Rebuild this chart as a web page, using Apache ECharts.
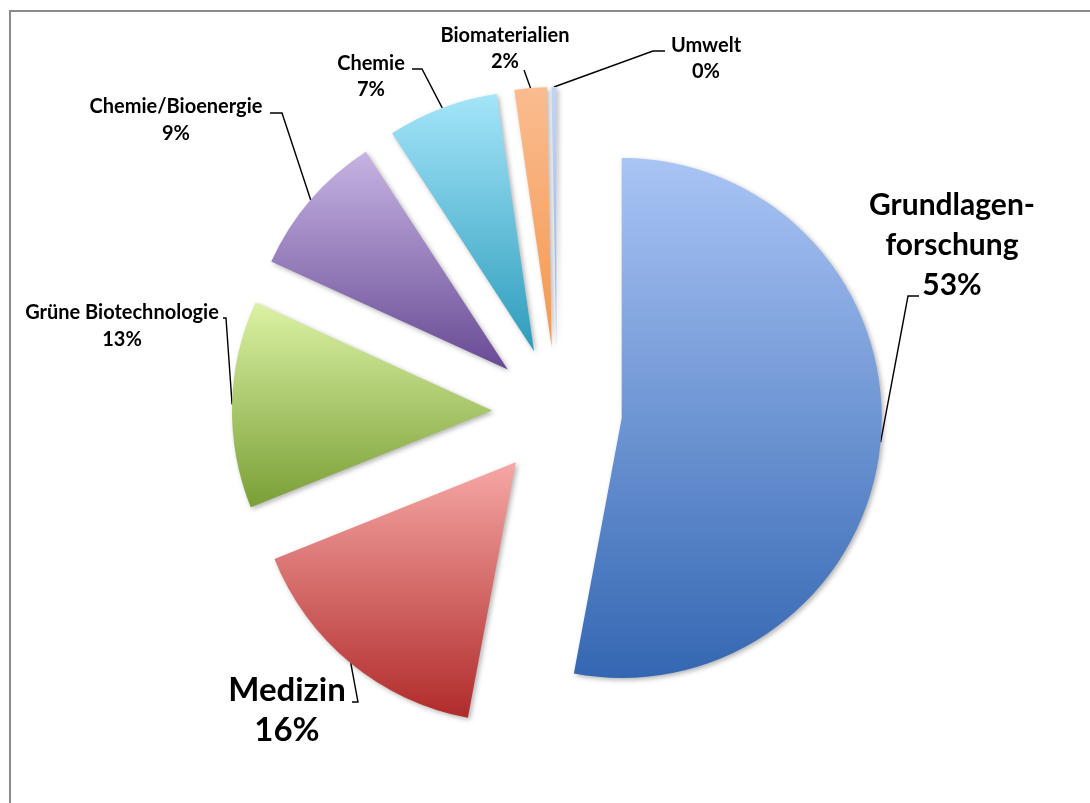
<!DOCTYPE html>
<html>
<head>
<meta charset="utf-8">
<script src="https://cdn.jsdelivr.net/npm/echarts@6/dist/echarts.min.js"></script>
<style>
  html, body { margin: 0; padding: 0; background: #ffffff; }
  #chart { width: 1090px; height: 803px; }
</style>
</head>
<body>
<div id="chart"></div>
<script>
// Research funding by field (share in percent)
const categories = ['Grundlagenforschung', 'Medizin', 'Grüne Biotechnologie', 'Chemie/Bioenergie', 'Chemie', 'Biomaterialien', 'Umwelt'];
const shares = [53.0, 16.0, 12.9, 9.0, 6.9, 2.0, 0.3];
// Text shown in the labels (Grundlagenforschung is hyphenated over two lines)
const labelNames = ['Grundlagen-\nforschung', 'Medizin', 'Grüne Biotechnologie', 'Chemie/Bioenergie', 'Chemie', 'Biomaterialien', 'Umwelt'];

// Top / bottom colours of each slice's vertical gradient
const gradientColors = [
  ['#a9c4f5', '#3467b2'],
  ['#f6a8a6', '#b02b2a'],
  ['#dbf2a4', '#7a9f36'],
  ['#c6b4e3', '#684a94'],
  ['#a4e5f9', '#2d9cbc'],
  ['#fbbc90', '#f2984f'],
  ['#c2d4f5', '#9cb4e6']
];

const CX = 557, CY = 412, RADIUS = 260, EXPLODE = 65;

// Label placement: centre of text block, font size, line height, leader-line elbow and end
const labelPlace = [
  { x: 952, y: 245, size: 30, lh: 40, elbow: [908, 296], end: [919, 296] },
  { x: 287, y: 710, size: 33, lh: 40, elbow: [358, 702], end: [352, 702] },
  { x: 122, y: 326, size: 20, lh: 27, elbow: [226, 318], end: [223, 318] },
  { x: 176, y: 120, size: 20, lh: 27, elbow: [282, 113], end: [270, 113] },
  { x: 371, y: 77,  size: 20, lh: 26, elbow: [422, 69],  end: [412, 69] },
  { x: 505, y: 49,  size: 20, lh: 26, elbow: [524, 70],  end: [524, 70] },
  { x: 706, y: 59,  size: 20, lh: 26, elbow: [653, 51],  end: [665, 51] }
];

const total = shares.reduce((a, b) => a + b, 0);
// Direction (screen coords) of a slice's middle angle, measured clockwise from 12 o'clock
function midDir(i) {
  let before = 0;
  for (let k = 0; k < i; k++) before += shares[k];
  const theta = (before + shares[i] / 2) / total * Math.PI * 2;
  return [Math.sin(theta), -Math.cos(theta)];
}

const chart = echarts.init(document.getElementById('chart'), null, { renderer: 'canvas' });

// One pie layer per slice: every layer shares the same data, only its own slice is painted,
// and the layer is pushed outward along that slice's middle angle (exploded pie).
const series = categories.map((_, s) => {
  const d = midDir(s);
  const cx = CX + EXPLODE * d[0], cy = CY + EXPLODE * d[1];
  const anchor = [cx + RADIUS * d[0], cy + RADIUS * d[1]];
  return {
    type: 'pie',
    center: [cx, cy],
    radius: RADIUS,
    startAngle: 90,
    clockwise: true,
    percentPrecision: 0,
    avoidLabelOverlap: false,
    silent: true,
    emphasis: { disabled: true },
    z: s === 0 ? 2 : 3,
    label: {
      show: true,
      color: '#000000',
      fontFamily: 'Lato',
      fontWeight: 'bold',
      align: 'center',
      formatter: (p) => labelNames[p.dataIndex] + '\n' + p.percent + '%'
    },
    labelLine: {
      show: true,
      lineStyle: { color: '#000000', width: 1.4 }
    },
    labelLayout: (params) => {
      if (params.dataIndex !== s) return {};
      const lp = labelPlace[s];
      return {
        x: lp.x,
        y: lp.y,
        align: 'center',
        verticalAlign: 'middle',
        labelLinePoints: [anchor, lp.elbow, lp.end]
      };
    },
    data: categories.map((name, i) => i === s ? {
      name: name,
      value: shares[i],
      itemStyle: {
        color: new echarts.graphic.LinearGradient(0, 0, 0, 1, [
          { offset: 0, color: gradientColors[i][0] },
          { offset: 1, color: gradientColors[i][1] }
        ]),
        shadowBlur: 5,
        shadowColor: 'rgba(0,0,0,0.3)',
        shadowOffsetX: 2,
        shadowOffsetY: 2
      },
      label: { fontSize: labelPlace[i].size, lineHeight: labelPlace[i].lh }
    } : {
      name: name,
      value: shares[i],
      itemStyle: { color: 'rgba(0,0,0,0)', borderWidth: 0 },
      label: { show: false },
      labelLine: { show: false }
    })
  };
});

chart.setOption({
  animation: false,
  backgroundColor: '#ffffff',
  graphic: [{
    type: 'rect',
    silent: true,
    shape: { x: 10, y: 11, width: 1200, height: 1000 },
    style: { fill: 'none', stroke: '#8c8c8c', lineWidth: 2 }
  }],
  series: series
});
</script>
</body>
</html>
